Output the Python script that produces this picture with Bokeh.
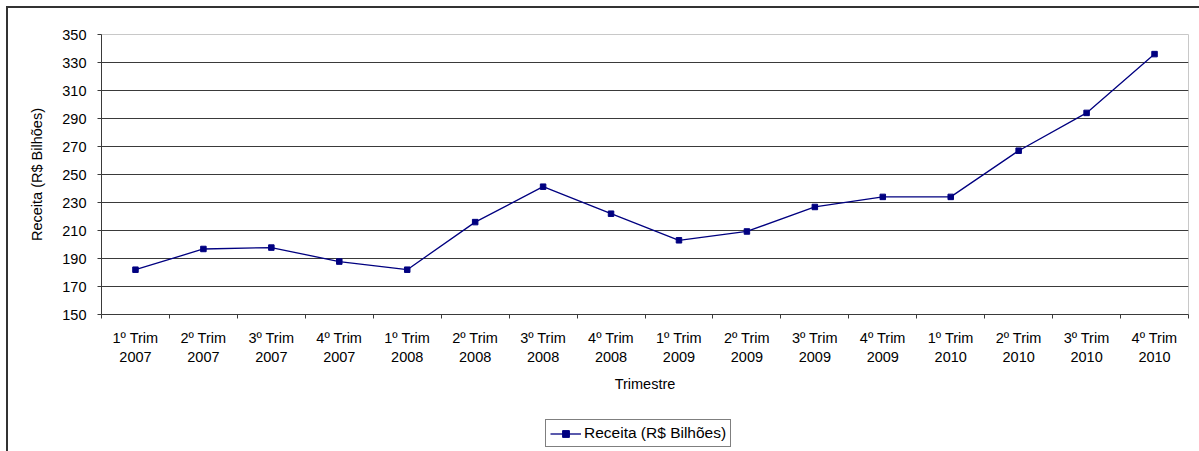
from bokeh.plotting import figure
from bokeh.layouts import column
from bokeh.models import FixedTicker, Legend, LegendItem, Range1d
from bokeh.embed import file_html
from bokeh.resources import INLINE

quarters = ["1º Trim", "2º Trim", "3º Trim", "4º Trim"] * 4
years = ["2007"] * 4 + ["2008"] * 4 + ["2009"] * 4 + ["2010"] * 4
receita = [182, 196.8, 197.8, 187.8, 182, 216, 241.3, 222, 203, 209.3, 226.8, 234, 234, 267, 294, 336]
y_ticks = [150, 170, 190, 210, 230, 250, 270, 290, 310, 330, 350]
series_name = "Receita (R$ Bilhões)"
x_title = "Trimestre"

FONT = "Liberation Sans"
FS = "14.5px"
DARK = "#3a3a3a"
NAVY = "#000080"

n = len(receita)
xs = list(range(1, n + 1))
labels = [f"{q}\n{y}" for q, y in zip(quarters, years)]

p = figure(width=1191, height=394, output_backend="svg", toolbar_location=None,
           x_range=Range1d(0.5, n + 0.5), y_range=Range1d(y_ticks[0], y_ticks[-1]),
           min_border_left=93, min_border_right=11, min_border_top=26, min_border_bottom=88)

p.background_fill_color = "white"
p.border_fill_color = "white"
p.outline_line_color = "#c8c8c8"
p.outline_line_width = 1

# x axis
p.xaxis.ticker = FixedTicker(ticks=xs, minor_ticks=[x - 0.5 for x in xs] + [n + 0.5])
p.xaxis.major_label_overrides = {x: lab for x, lab in zip(xs, labels)}
p.xaxis.major_tick_line_color = None
p.xaxis.minor_tick_line_color = DARK
p.xaxis.minor_tick_out = 4
p.xaxis.minor_tick_in = 0
p.xaxis.axis_line_color = DARK
p.xaxis.major_label_text_font = FONT
p.xaxis.major_label_text_font_size = FS
p.xaxis.major_label_text_color = "black"
p.xaxis.major_label_standoff = 9
p.xaxis.major_label_text_line_height = 1.2
p.xaxis.axis_label = x_title
p.xaxis.axis_label_text_font = FONT
p.xaxis.axis_label_text_font_size = FS
p.xaxis.axis_label_text_font_style = "normal"
p.xaxis.axis_label_text_color = "black"
p.xaxis.axis_label_standoff = 8

# y axis
p.yaxis.ticker = FixedTicker(ticks=y_ticks)
p.yaxis.major_tick_out = 4
p.yaxis.major_tick_in = 0
p.yaxis.minor_tick_line_color = None
p.yaxis.major_tick_line_color = DARK
p.yaxis.axis_line_color = DARK
p.yaxis.major_label_text_font = FONT
p.yaxis.major_label_text_font_size = FS
p.yaxis.major_label_text_color = "black"
p.yaxis.major_label_standoff = 11
p.yaxis.axis_label = series_name
p.yaxis.axis_label_text_font = FONT
p.yaxis.axis_label_text_font_size = FS
p.yaxis.axis_label_text_font_style = "normal"
p.yaxis.axis_label_text_color = "black"
p.yaxis.axis_label_standoff = 14

p.xgrid.grid_line_color = None
p.ygrid.ticker = FixedTicker(ticks=y_ticks[1:-1])
p.ygrid.grid_line_color = DARK
p.ygrid.grid_line_width = 1

p.line(xs, receita, line_color=NAVY, line_width=1.3)
p.scatter(xs, receita, marker="square", size=5.5, fill_color=NAVY, line_color=NAVY)

# legend strip below the chart (its renderers lie outside its visible range)
pl = figure(width=1191, height=49, output_backend="svg", toolbar_location=None,
            x_range=Range1d(-10, -9), y_range=Range1d(-10, -9),
            min_border_left=0, min_border_right=0, min_border_top=0, min_border_bottom=0)
pl.axis.visible = False
pl.grid.visible = False
pl.outline_line_color = None
pl.background_fill_color = "white"
pl.border_fill_color = "white"
lg_line = pl.line(xs, receita, line_color=NAVY, line_width=1.3)
lg_sq = pl.scatter(xs, receita, marker="square", size=5.5, fill_color=NAVY, line_color=NAVY)

legend = Legend(items=[LegendItem(label=series_name, renderers=[lg_line, lg_sq])],
                location=(444, 4), orientation="horizontal")
legend.border_line_color = "black"
legend.border_line_width = 1
legend.label_text_font = FONT
legend.label_text_font_size = "15.5px"
legend.label_text_color = "black"
legend.padding = 4
legend.margin = 0
legend.glyph_width = 31
legend.glyph_height = 17
legend.label_height = 17
legend.label_standoff = 3
legend.background_fill_alpha = 1
pl.add_layout(legend, "center")

layout = column(p, pl, spacing=0)
layout.margin = (6, 0, 0, 6)
layout.styles = {"border-left": "2px solid #333333", "border-top": "2px solid #333333"}

open("out.html", "w").write(file_html(layout, INLINE))
